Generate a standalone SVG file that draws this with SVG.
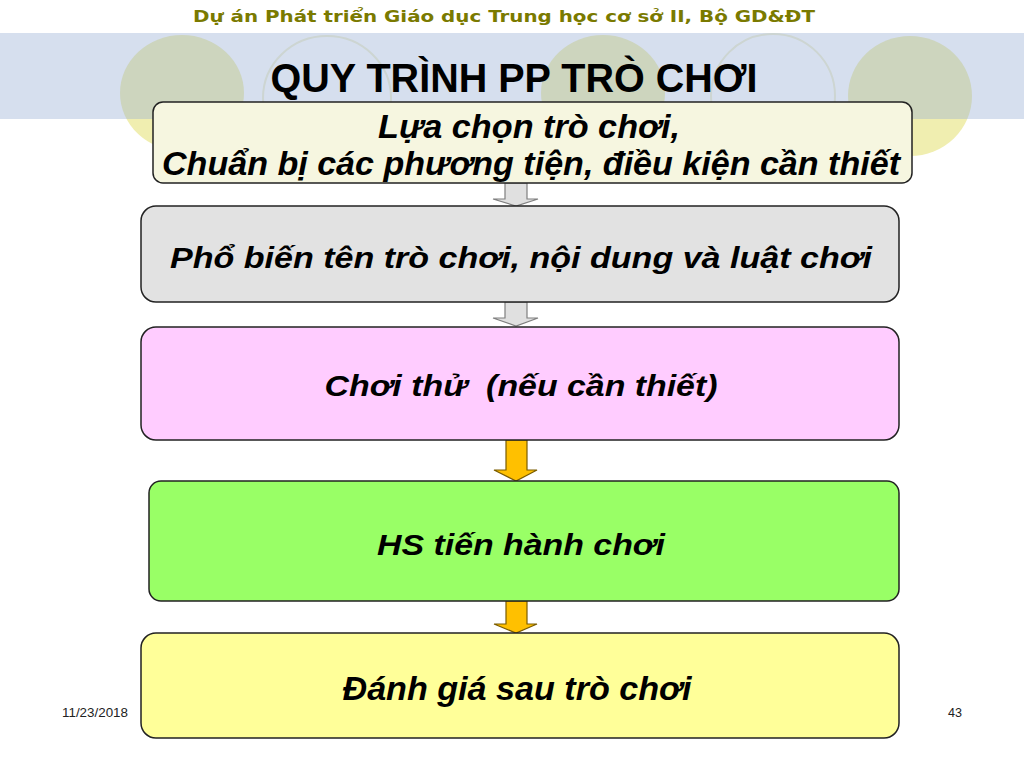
<svg xmlns="http://www.w3.org/2000/svg" width="1024" height="768" viewBox="0 0 1024 768">
<style>
.box{stroke:#222;stroke-width:1.5}
.t{font-family:"Liberation Sans",Arial,sans-serif;font-weight:bold;font-style:italic;fill:#000;text-anchor:middle;white-space:pre}
.ga{fill:#e0e0e0;stroke:#7f7f7f;stroke-width:1.2}
.ya{fill:#ffc000;stroke:#7a5c00;stroke-width:1.2}
.fc{fill:#f0eeb0}
.oc{fill:none;stroke:#f0efd0;stroke-width:2}
.ft{font-family:"Liberation Sans",Arial,sans-serif;font-size:13px;fill:#222}
</style>
<rect width="1024" height="768" fill="#fff"/>
<g id="background">
<ellipse class="fc" cx="182" cy="93" rx="62" ry="58"/>
<ellipse class="oc" cx="327" cy="98" rx="64" ry="62"/>
<ellipse class="fc" cx="603" cy="93" rx="62" ry="58"/>
<ellipse class="oc" cx="773" cy="96" rx="62" ry="62"/>
<ellipse class="fc" cx="910" cy="96" rx="62" ry="60"/>
<rect x="0" y="33" width="1024" height="86" fill="#98afd4" fill-opacity="0.4"/>
</g>
<text x="504" y="22" font-family="DejaVu Sans,Verdana,sans-serif" font-weight="bold" font-size="16" fill="#7a7a00" text-anchor="middle" textLength="622" lengthAdjust="spacingAndGlyphs">Dự án Phát triển Giáo dục Trung học cơ sở II, Bộ GD&amp;ĐT</text>
<text x="514" y="92" font-family="Liberation Sans,Arial,sans-serif" font-weight="bold" font-size="41" fill="#000" text-anchor="middle" textLength="487" lengthAdjust="spacingAndGlyphs">QUY TRÌNH PP TRÒ CHƠI</text>
<g id="connectors">
<path class="ga" d="M505,183 H527 V199 H538 L516,206 L493,199 H505 Z"/>
<path class="ga" d="M505,302 H527 V318 H538 L516,326 L493,318 H505 Z"/>
<path class="ya" d="M506,440 H527 V470 H537 L516,481 L494,470 H506 Z"/>
<path class="ya" d="M506,601 H527 V624 H537 L516,633 L494,624 H506 Z"/>
</g>
<g id="node1">
<rect class="box" x="153" y="102" width="759" height="81" rx="10" fill="#f6f6e0"/>
<text class="t" x="529" y="138" font-size="34" textLength="302" lengthAdjust="spacingAndGlyphs">Lựa chọn trò chơi,</text>
<text class="t" x="531" y="175" font-size="34" textLength="738" lengthAdjust="spacingAndGlyphs">Chuẩn bị các phương tiện, điều kiện cần thiết</text>
</g>
<g id="node2">
<rect class="box" x="141" y="206" width="758" height="96" rx="15" fill="#e2e2e2"/>
<text class="t" x="521" y="268" font-size="30" textLength="702" lengthAdjust="spacingAndGlyphs">Phổ biến tên trò chơi, nội dung và luật chơi</text>
</g>
<g id="node3">
<rect class="box" x="141" y="327" width="758" height="113" rx="15" fill="#ffccff"/>
<text class="t" x="521" y="396" font-size="30" textLength="393" lengthAdjust="spacingAndGlyphs" xml:space="preserve">Chơi thử  (nếu cần thiết)</text>
</g>
<g id="node4">
<rect class="box" x="149" y="481" width="750" height="120" rx="12" fill="#99ff66"/>
<text class="t" x="521" y="555" font-size="30" textLength="288" lengthAdjust="spacingAndGlyphs">HS tiến hành chơi</text>
</g>
<g id="node5">
<rect class="box" x="141" y="633" width="758" height="105" rx="15" fill="#ffff99"/>
<text class="t" x="517" y="700" font-size="34" textLength="349" lengthAdjust="spacingAndGlyphs">Đánh giá sau trò chơi</text>
</g>
<text class="ft" x="62" y="717" textLength="66" lengthAdjust="spacingAndGlyphs">11/23/2018</text>
<text class="ft" x="948" y="717" textLength="14" lengthAdjust="spacingAndGlyphs">43</text>
</svg>
